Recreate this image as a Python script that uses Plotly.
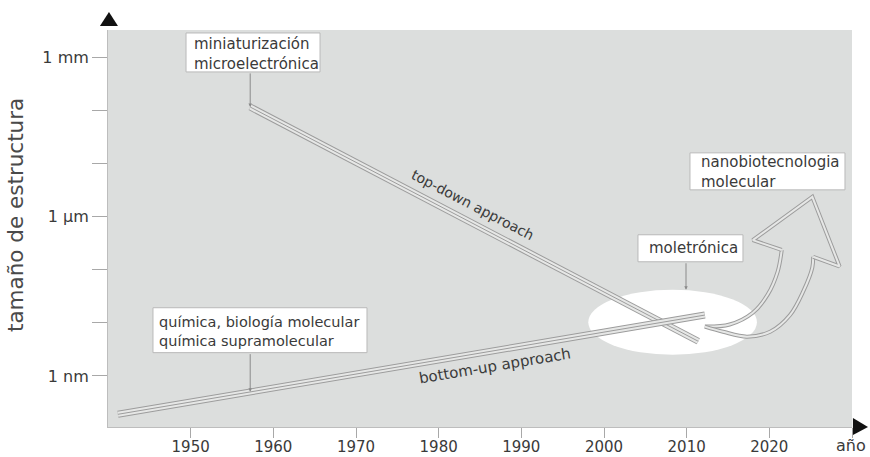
import numpy as np
import plotly.graph_objects as go

# ---- data -------------------------------------------------------------
x_tick_years = [1950, 1960, 1970, 1980, 1990, 2000, 2010, 2020, 2030]
x_tick_labels = ["1950", "1960", "1970", "1980", "1990", "2000", "2010", "2020", ""]
y_tick_sizes_m = [1e-3, 1e-4, 1e-5, 1e-6, 1e-7, 1e-8, 1e-9]
y_tick_labels = ["1 mm", "", "", "1 µm", "", "", "1 nm"]

top_down_year = [1957.2, 2011.4]
top_down_size_m = [1.15e-4, 4.5e-9]
bottom_up_year = [1941.2, 2012.2]
bottom_up_size_m = [1.9e-10, 1.4e-8]

# hollow arrow towards "nanobiotecnologia molecular" (year, size in m)
arrow_left_year = [2012.2, 2015.2, 2018.0, 2019.8, 2021.0, 2021.5]
arrow_left_size_m = [8.5e-9, 9.3e-9, 1.55e-8, 3.4e-8, 9.1e-8, 2.35e-7]
arrow_head_year = [2021.5, 2018.0, 2025.2, 2028.5, 2025.3]
arrow_head_size_m = [2.35e-7, 3.6e-7, 2.35e-6, 1.15e-7, 1.75e-7]
arrow_right_year = [2025.3, 2025.2, 2024.1, 2022.5, 2020.1, 2017.3, 2014.4, 2012.2]
arrow_right_size_m = [1.75e-7, 1.1e-7, 3.9e-8, 1.4e-8, 6.8e-9, 5.5e-9, 6.8e-9, 8.5e-9]

lg = np.log10

GRAY = "#9c9c9c"
LIGHT = "#e6e7e6"
BG = "#dcdedd"
TXT = "#3a3a3a"
FONT = "DejaVu Sans"

fig = go.Figure()


def triple_line(xs, ys):
    for w, c in [(7, GRAY), (5, LIGHT), (1, GRAY)]:
        fig.add_trace(go.Scatter(x=xs, y=ys, mode="lines",
                                 line=dict(color=c, width=w),
                                 hoverinfo="skip", showlegend=False))


def double_line(xs, ys, shape):
    for w, c in [(4, GRAY), (2, LIGHT)]:
        fig.add_trace(go.Scatter(x=xs, y=ys, mode="lines",
                                 line=dict(color=c, width=w, shape=shape),
                                 hoverinfo="skip", showlegend=False))


triple_line(top_down_year, lg(top_down_size_m))
triple_line(bottom_up_year, lg(bottom_up_size_m))
double_line(arrow_left_year, lg(arrow_left_size_m), "spline")
double_line(arrow_right_year, lg(arrow_right_size_m), "spline")
double_line(arrow_head_year, lg(arrow_head_size_m), "linear")

shapes = []
# white ellipse (moletrónica zone)
shapes.append(dict(type="circle", xref="x", yref="y", x0=1998.1, x1=2018.5,
                   y0=-7.377, y1=-8.599, fillcolor="white",
                   line=dict(width=0), layer="below"))

# label boxes
boxes = [
    (1949.44, 1965.65, -2.546, -3.279),
    (1945.44, 1971.33, -7.716, -8.561),
    (2004.11, 2016.81, -6.343, -6.851),
    (2010.40, 2029.15, -4.802, -5.498),
]
for x0, x1, y0, y1 in boxes:
    shapes.append(dict(type="rect", xref="x", yref="y", x0=x0, x1=x1, y0=y0, y1=y1,
                       fillcolor="white", line=dict(color="#b9b9b9", width=1),
                       layer="above"))

# axis arrow heads
shapes.append(dict(type="path", xref="paper", yref="paper",
                   path="M -0.0108 1.0101 L 0.0134 1.0101 L 0.0013 1.0453 Z",
                   fillcolor="#111", line=dict(width=0)))
shapes.append(dict(type="path", xref="paper", yref="paper",
                   path="M 1.0013 0.0227 L 1.0013 -0.0202 L 1.0215 0 Z",
                   fillcolor="#111", line=dict(width=0)))

ann = []
box_texts = [
    (1950.16, -2.941, "miniaturización<br>microelectrónica", 15),
    (1945.93, -8.167, "química, biología molecular<br>química supramolecular", 14.5),
    (2005.20, -6.597, "moletrónica", 15),
    (2011.49, -5.159, "nanobiotecnologia<br>molecular", 15),
]
for x, y, t, fs in box_texts:
    ann.append(dict(x=x, y=y, xref="x", yref="y", text=t, showarrow=False,
                    xanchor="left", yanchor="middle", align="left",
                    font=dict(family=FONT, size=fs, color=TXT)))

# connectors from boxes
for x, y_head, y_tail in [(1957.2, -3.94, -3.279), (1957.2, -9.295, -8.561),
                          (2009.92, -7.377, -6.851)]:
    ann.append(dict(x=x, y=y_head, ax=x, ay=y_tail, xref="x", yref="y",
                    axref="x", ayref="y", text="", showarrow=True,
                    arrowhead=2, arrowsize=0.7, arrowwidth=1, arrowcolor="#8a8a8a"))

# rotated line labels
ann.append(dict(x=1984.15, y=-5.78, xref="x", yref="y", text="top-down approach",
                showarrow=False, textangle=27.5,
                font=dict(family=FONT, size=14, color=TXT)))
ann.append(dict(x=1986.8, y=-8.806, xref="x", yref="y", text="bottom-up approach",
                showarrow=False, textangle=-9.5,
                font=dict(family=FONT, size=15, color=TXT)))

# axis titles
ann.append(dict(x=-0.125, y=0.534, xref="paper", yref="paper",
                text="tamaño de estructura", showarrow=False, textangle=-90,
                xanchor="center", yanchor="middle",
                font=dict(family=FONT, size=21.5, color="#4a4a4a")))
ann.append(dict(x=0.9985, y=-0.047, xref="paper", yref="paper", text="año",
                showarrow=False, xanchor="center", yanchor="middle",
                font=dict(family=FONT, size=16, color=TXT)))

fig.update_layout(
    width=870, height=457,
    margin=dict(l=108, r=18, t=30, b=30, autoexpand=False),
    paper_bgcolor="white", plot_bgcolor=BG,
    showlegend=False, hovermode=False,
    shapes=shapes, annotations=ann,
    xaxis=dict(range=[1940, 2030], tickvals=x_tick_years, ticktext=x_tick_labels,
               ticks="outside", ticklen=10, tickcolor="#a8a8a8", tickwidth=1,
               ticklabelstandoff=-4,
               showgrid=False, zeroline=False, showline=True, automargin=False,
               linecolor="#bdbdbd", linewidth=1,
               tickfont=dict(family=FONT, size=15, color=TXT)),
    yaxis=dict(range=[-9.96, -2.49], tickvals=lg(y_tick_sizes_m), ticktext=y_tick_labels,
               ticks="outside", ticklen=15, tickcolor="#a8a8a8", tickwidth=1,
               showgrid=False, zeroline=False, showline=True, automargin=False,
               linecolor="#bdbdbd", linewidth=1,
               tickfont=dict(family=FONT, size=16, color=TXT)),
)

fig.write_html("out.html", config={"displayModeBar": False},
               post_script="document.body.style.margin='0';document.body.style.overflow='hidden';")
